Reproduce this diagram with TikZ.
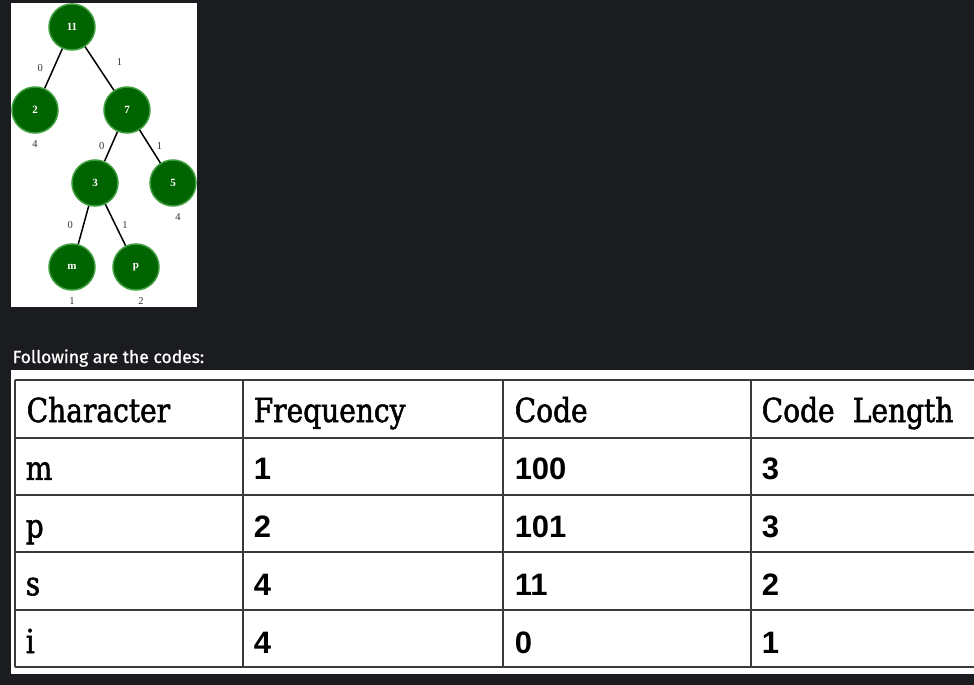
\documentclass[tikz,border=0pt]{standalone}
\usepackage{fontspec}
\setmainfont{Liberation Serif}
\newfontfamily\headfont[FakeStretch=0.85,RawFeature={embolden=1.6}]{DejaVu Serif}
\newfontfamily\cellfont{Liberation Sans}
\newfontfamily\uifont[RawFeature={embolden=0.8}]{Fira Sans}
\usetikzlibrary{arrows}
\definecolor{bg}{HTML}{1B1C1F}
\definecolor{leaf}{HTML}{006400}
\definecolor{rim}{HTML}{3E9E3E}
\definecolor{grid}{HTML}{3A3A3A}
\tikzstyle{hn} = [circle, draw=rim, fill=leaf, minimum size=46pt, inner sep=0pt,
    text=white, font=\bfseries\fontsize{11}{12}\selectfont]
\tikzstyle{bit} = [inner sep=1pt, text=black!80, font=\fontsize{10.5}{11}\selectfont]
\tikzstyle{freq} = [inner sep=1pt, text=black!80, font=\fontsize{10.5}{11}\selectfont, label distance=5pt]
\tikzstyle{head} = [anchor=base west, inner sep=0pt, font=\headfont\fontsize{33}{36}\selectfont]
\tikzstyle{num} = [anchor=base west, inner sep=0pt, font=\cellfont\bfseries\fontsize{31}{34}\selectfont]

\begin{document}
\begin{tikzpicture}[x=1pt,y=-1pt,-,line width=1.5pt,auto]
  \useasboundingbox (0,0) rectangle (974,685);
  \fill[bg] (0,0) rectangle (974,685);

  % tree panel
  \fill[white] (11,3) rectangle (197,307);
  \node[hn] (n11) at (72,27)  {11};
  \node[hn] (n2)  at (35,110) [label={[freq]below:4}] {2};
  \node[hn] (n7)  at (127,110) {7};
  \node[hn] (n3)  at (95,183) {3};
  \node[hn] (n5)  at (173,183) [label={[freq,xshift=5pt]below:4}] {5};
  \node[hn] (nm)  at (72,267) [label={[freq]below:1}] {m};
  \node[hn] (np)  at (136,267) [label={[freq,xshift=5pt]below:2}] {p};

  \path (n11) edge node[bit,swap,left=9pt] {0} (n2)
              edge node[bit,pos=0.35,right=20pt] {1} (n7)
        (n7)  edge node[bit,swap,left=5pt] {0} (n3)
              edge node[bit,right=5pt] {1} (n5)
        (n3)  edge node[bit,swap,left=9pt] {0} (nm)
              edge node[bit,right=5pt] {1} (np);

  % caption
  \node[anchor=base west, inner sep=0pt, text=white, font=\uifont\fontsize{17.5}{19}\selectfont]
    (cap) at (12,363) {Following are the codes:};

  % table
  \fill[white] (11,370) rectangle (974,674);
  \foreach \y in {380,438,495,552,610,667}
    \draw[grid,line width=1.8pt] (15,\y) -- (974,\y);
  \foreach \x in {15,243,503,751}
    \draw[grid,line width=1.8pt] (\x,380) -- (\x,667);

  \node[head] (hchr)  at (26,422)  {Character};
  \node[head] (hfreq) at (253,422) {Frequency};
  \node[head] (hcode) at (514,422) {Code};
  \node[head] (hlen)  at (761,422) {Code\hspace{0.55em}Length};

  \foreach \chr/\fq/\cw/\cl [count=\k] in {m/1/100/3, p/2/101/3, s/4/11/2, i/4/0/1} {
    \pgfmathsetmacro\yb{422+57.75*\k}
    \node[head] (chr\k)  at (25,\yb)  {\chr};
    \node[num]  (freq\k) at (253,\yb) {\fq};
    \node[num]  (code\k) at (514,\yb) {\cw};
    \node[num]  (len\k)  at (761,\yb) {\cl};
  }
\end{tikzpicture}
\end{document}
